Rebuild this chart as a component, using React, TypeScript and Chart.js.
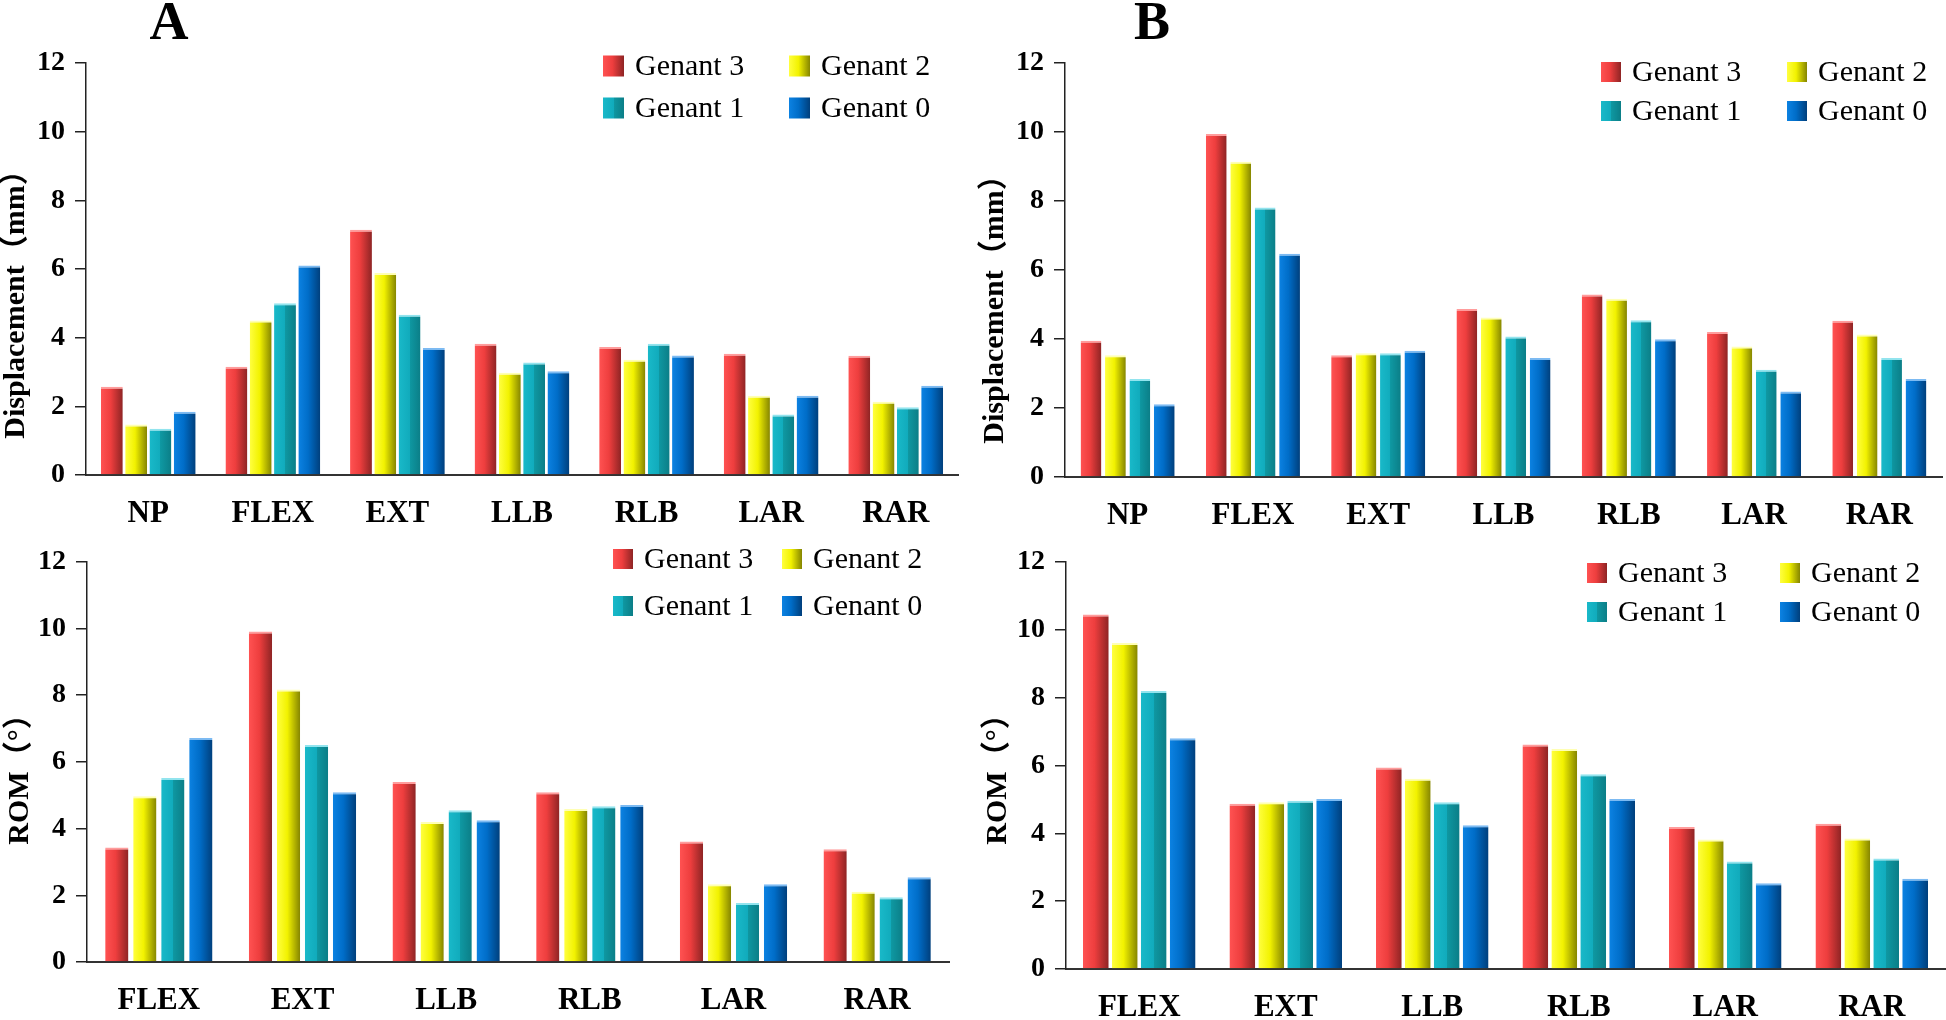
import React, { useEffect, useRef } from 'react';
import { Chart, registerables } from 'chart.js';

Chart.register(...registerables);

const FONT = "'Liberation Serif', 'Times New Roman', 'Noto Sans CJK SC', serif";

// ---- data ----
const categoriesDisp = ['NP', 'FLEX', 'EXT', 'LLB', 'RLB', 'LAR', 'RAR'];
const categoriesRom = ['FLEX', 'EXT', 'LLB', 'RLB', 'LAR', 'RAR'];
const seriesLabels = ['Genant 3', 'Genant 2', 'Genant 1', 'Genant 0'];
const yTicksMax = 12;
const yTickStep = 2;

const dispA_g3 = [2.57, 3.15, 7.14, 3.82, 3.73, 3.53, 3.47];
const dispA_g2 = [1.47, 4.5, 5.88, 2.98, 3.36, 2.31, 2.13];
const dispA_g1 = [1.35, 5.0, 4.67, 3.28, 3.82, 1.76, 1.97];
const dispA_g0 = [1.84, 6.1, 3.7, 3.02, 3.48, 2.31, 2.6];

const dispB_g3 = [3.95, 9.94, 3.53, 4.87, 5.29, 4.2, 4.53];
const dispB_g2 = [3.53, 9.14, 3.59, 4.62, 5.17, 3.78, 4.13];
const dispB_g1 = [2.84, 7.81, 3.59, 4.07, 4.54, 3.11, 3.45];
const dispB_g0 = [2.11, 6.47, 3.66, 3.45, 3.99, 2.48, 2.84];

const romA_g3 = [3.43, 9.91, 5.4, 5.09, 3.61, 3.38];
const romA_g2 = [4.97, 8.17, 4.2, 4.59, 2.33, 2.11];
const romA_g1 = [5.52, 6.51, 4.55, 4.67, 1.77, 1.94];
const romA_g0 = [6.72, 5.09, 4.25, 4.71, 2.33, 2.54];

const romB_g3 = [10.45, 4.87, 5.94, 6.62, 4.19, 4.28];
const romB_g2 = [9.61, 4.92, 5.61, 6.49, 3.82, 3.85];
const romB_g1 = [8.2, 4.96, 4.92, 5.74, 3.17, 3.26];
const romB_g0 = [6.8, 5.01, 4.24, 5.01, 2.53, 2.66];

// ---- styles ----
const PALETTE = [
  { light: '#ff5252', main: '#ee3e3e', dark: '#8e2424', edge: '#ff9c9c' },
  { light: '#ffff40', main: '#f2f200', dark: '#858500', edge: '#ffffb4' },
  { light: '#19b9c9', main: '#11abbc', split: '#0f98a2', dark: '#0b7e87', edge: '#92e4ee' },
  { light: '#0c82e2', main: '#006dc8', dark: '#003f7c', edge: '#7cbaf2' },
];

function fillGradient(ctx: CanvasRenderingContext2D, x0: number, x1: number, i: number) {
  const p: any = PALETTE[i];
  const g = ctx.createLinearGradient(x0, 0, x1, 0);
  if (p.split) {
    g.addColorStop(0, p.light);
    g.addColorStop(0.5, p.main);
    g.addColorStop(0.5, p.split);
    g.addColorStop(1, p.dark);
  } else {
    g.addColorStop(0, p.light);
    g.addColorStop(0.45, p.main);
    g.addColorStop(1, p.dark);
  }
  return g;
}

const decoPlugin: any = {
  id: 'panelDeco',
  beforeDatasetsDraw(chart: any) {
    const ctx = chart.ctx;
    chart.data.datasets.forEach((_: any, i: number) => {
      const meta = chart.getDatasetMeta(i);
      meta.data.forEach((el: any) => {
        const x = el.x;
        const w = el.width;
        if (el.options && !Object.isFrozen(el.options)) {
          el.options.backgroundColor = fillGradient(ctx, x - w / 2, x + w / 2, i);
        }
      });
    });
  },
  afterDraw(chart: any, _args: any, opts: any) {
    const ctx: CanvasRenderingContext2D = chart.ctx;
    ctx.save();
    ctx.fillStyle = '#000';
    ctx.textBaseline = 'middle';
    if (opts.letter) {
      ctx.font = `bold 54px ${FONT}`;
      ctx.textAlign = 'center';
      ctx.fillText(opts.letter, opts.letterPos[0], opts.letterPos[1]);
    }
    ctx.save();
    ctx.translate(opts.titlePos[0], opts.titlePos[1]);
    ctx.rotate(-Math.PI / 2);
    ctx.font = `bold 30px ${FONT}`;
    ctx.textAlign = 'center';
    ctx.fillText(opts.title, 0, 0);
    ctx.restore();
    chart.data.datasets.forEach((ds: any, i: number) => {
      const col = i % 2;
      const row = Math.floor(i / 2);
      const sx = opts.legendX[col];
      const cy = opts.legendY[row];
      const s = opts.box;
      ctx.fillStyle = fillGradient(ctx, sx, sx + s, i);
      ctx.fillRect(sx, cy - s / 2, s, s);
      ctx.fillStyle = '#000';
      ctx.font = `30px ${FONT}`;
      ctx.textAlign = 'left';
      ctx.fillText(ds.label, sx + s + 11, cy + 1);
    });
    ctx.restore();
  },
};

type PanelCfg = {
  x: number; y: number; w: number; h: number;
  area: { l: number; r: number; t: number; b: number };
  cats: string[];
  series: number[][];
  title: string;
  titlePos: number[];
  letter?: string;
  letterPos?: number[];
  legendX: number[];
  legendY: number[];
  box: number;
  catPct: number;
  barPct: number;
};

const panels: PanelCfg[] = [
  {
    x: 0, y: 0, w: 973, h: 535,
    area: { l: 86, r: 958, t: 63, b: 475 },
    cats: categoriesDisp,
    series: [dispA_g3, dispA_g2, dispA_g1, dispA_g0],
    title: 'Displacement（mm）', titlePos: [16, 297],
    letter: 'A', letterPos: [169, 25],
    legendX: [603, 789], legendY: [66, 108], box: 21,
    catPct: 0.78, barPct: 0.9,
  },
  {
    x: 973, y: 0, w: 973, h: 535,
    area: { l: 1065, r: 1942, t: 63, b: 477 },
    cats: categoriesDisp,
    series: [dispB_g3, dispB_g2, dispB_g1, dispB_g0],
    title: 'Displacement（mm）', titlePos: [995, 302],
    letter: 'B', letterPos: [1152, 25],
    legendX: [1601, 1787], legendY: [72, 111], box: 20,
    catPct: 0.78, barPct: 0.85,
  },
  {
    x: 0, y: 535, w: 973, h: 485,
    area: { l: 87, r: 949, t: 555, b: 962 },
    cats: categoriesRom,
    series: [romA_g3, romA_g2, romA_g1, romA_g0],
    title: 'ROM（°）', titlePos: [20, 772],
    legendX: [613, 782], legendY: [559, 606], box: 20,
    catPct: 0.78, barPct: 0.83,
  },
  {
    x: 973, y: 535, w: 973, h: 485,
    area: { l: 1066, r: 1945, t: 562, b: 969 },
    cats: categoriesRom,
    series: [romB_g3, romB_g2, romB_g1, romB_g0],
    title: 'ROM（°）', titlePos: [998, 772],
    legendX: [1587, 1780], legendY: [573, 612], box: 20,
    catPct: 0.79, barPct: 0.89,
  },
];

function Panel({ cfg }: { cfg: PanelCfg }) {
  const ref = useRef<HTMLCanvasElement>(null);
  useEffect(() => {
    if (!ref.current) return;
    const { x, y, w, h, area } = cfg;
    const chart = new Chart(ref.current, {
      type: 'bar',
      data: {
        labels: cfg.cats,
        datasets: cfg.series.map((vals, i) => ({
          label: seriesLabels[i],
          data: vals,
          backgroundColor: () => PALETTE[i].main,
          borderColor: PALETTE[i].edge,
          borderWidth: { top: 2, left: 0, right: 0, bottom: 0 },
          borderSkipped: 'start',
          categoryPercentage: cfg.catPct,
          barPercentage: cfg.barPct,
        })),
      },
      options: {
        animation: false,
        responsive: false,
        events: [],
        layout: { padding: { left: 0, top: area.t - y, right: x + w - area.r, bottom: 0 } },
        scales: {
          x: {
            grid: { display: false, drawTicks: false },
            border: { display: true, color: '#333', width: 2 },
            ticks: {
              font: { family: FONT, size: 31, weight: 'bold' },
              color: '#000',
              padding: 20,
              maxRotation: 0,
              autoSkip: false,
            },
            afterFit: (s: any) => { s.height = y + h - area.b; },
          },
          y: {
            min: 0,
            max: yTicksMax,
            ticks: {
              stepSize: yTickStep,
              font: { family: FONT, size: 28, weight: 'bold' },
              color: '#000',
              padding: 10,
            },
            grid: { display: true, drawOnChartArea: false, drawTicks: true, tickLength: 11, color: '#222', lineWidth: 1.5 },
            border: { display: true, color: '#222', width: 1.5 },
            afterFit: (s: any) => { s.width = area.l - x; },
          },
        },
        plugins: {
          legend: { display: false },
          tooltip: { enabled: false },
          panelDeco: {
            title: cfg.title,
            titlePos: [cfg.titlePos[0] - x, cfg.titlePos[1] - y],
            letter: cfg.letter,
            letterPos: cfg.letterPos ? [cfg.letterPos[0] - x, cfg.letterPos[1] - y] : null,
            legendX: cfg.legendX.map((v) => v - x),
            legendY: cfg.legendY.map((v) => v - y),
            box: cfg.box,
          },
        } as any,
      } as any,
      plugins: [decoPlugin],
    });
    return () => chart.destroy();
  }, [cfg]);
  return (
    <div style={{ position: 'absolute', left: cfg.x, top: cfg.y, width: cfg.w, height: cfg.h }}>
      <canvas ref={ref} width={cfg.w} height={cfg.h} style={{ width: cfg.w, height: cfg.h, display: 'block' }} />
    </div>
  );
}

export default function App() {
  return (
    <div style={{ position: 'absolute', left: 0, top: 0, width: 1946, height: 1020, background: '#fff', overflow: 'hidden' }}>
      {panels.map((p, i) => (
        <Panel key={i} cfg={p} />
      ))}
    </div>
  );
}
